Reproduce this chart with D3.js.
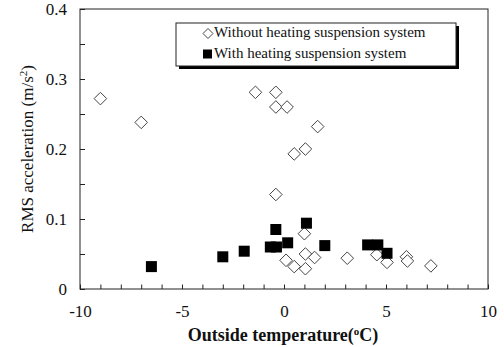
<!DOCTYPE html>
<html>
<head>
<meta charset="utf-8">
<script src="https://cdn.jsdelivr.net/npm/d3@7"></script>
<style>
  body { margin: 0; background: #fff; }
</style>
</head>
<body>
<div id="chart"></div>
<script>
// outside temperature (°C) vs RMS acceleration (m/s²)
const tempWithout = [-9, -7, -1.4, -0.4, -0.4, 0.15, 1.65, 0.5, 1.05, -0.4, 1.0, 1.05, 0.1, 0.5, 1.05, 1.5, 3.1, 4.55, 5.05, 6.0, 6.05, 7.2];
const rmsWithout = [0.272, 0.238, 0.281, 0.281, 0.260, 0.260, 0.232, 0.193, 0.200, 0.135, 0.079, 0.050, 0.041, 0.032, 0.029, 0.045, 0.044, 0.049, 0.038, 0.046, 0.040, 0.033];

const tempWith = [-6.5, -3, -1.95, -0.4, -0.67, -0.37, 0.18, 1.1, 2.0, 4.1, 4.6, 5.05];
const rmsWith = [0.032, 0.046, 0.054, 0.085, 0.060, 0.060, 0.066, 0.094, 0.062, 0.063, 0.063, 0.051];

const xTicks = d3.range(-10, 11, 1);
const xLabels = [-10, -5, 0, 5, 10];
const yTicks = [0, 0.05, 0.1, 0.15, 0.2, 0.25, 0.3, 0.35, 0.4];
const yLabels = [0, 0.1, 0.2, 0.3, 0.4];

const legendNames = ['Without heating suspension system', 'With heating suspension system'];

const FONT = '"Liberation Serif", "Times New Roman", serif';

const width = 504, height = 347;
const margin = { top: 9, right: 16, bottom: 58, left: 80 };
const w = width - margin.left - margin.right;
const h = height - margin.top - margin.bottom;

const svg = d3.select('#chart').append('svg')
  .attr('width', width)
  .attr('height', height);

const g = svg.append('g')
  .attr('transform', `translate(${margin.left},${margin.top})`);

const x = d3.scaleLinear().domain([-10, 10]).range([0, w]);
const y = d3.scaleLinear().domain([0, 0.4]).range([h, 0]);

// frame
g.append('rect')
  .attr('width', w).attr('height', h)
  .attr('fill', 'none').attr('stroke', '#222').attr('stroke-width', 1);

const xAxis = g.append('g')
  .attr('transform', `translate(0,${h})`)
  .call(d3.axisBottom(x).tickValues(xTicks).tickSize(-4.5).tickPadding(16)
    .tickFormat(d => xLabels.includes(d) ? String(d) : ''));
const yAxis = g.append('g')
  .call(d3.axisLeft(y).tickValues(yTicks).tickSize(-5).tickPadding(13)
    .tickFormat(d => yLabels.includes(d) ? String(d) : ''));

[xAxis, yAxis].forEach(a => {
  a.attr('font-family', null).attr('font-size', null);
  a.select('.domain').remove();
  a.selectAll('line').attr('stroke', '#222');
  a.selectAll('text').style('font-family', FONT).style('font-size', '17px').attr('fill', '#111');
});

// markers
const diamond = r => `M0,${-r}L${r},0L0,${r}L${-r},0Z`;

g.append('g').selectAll('path')
  .data(tempWithout.map((t, i) => [t, rmsWithout[i]]))
  .join('path')
  .attr('d', diamond(6.3))
  .attr('transform', d => `translate(${x(d[0])},${y(d[1])})`)
  .attr('fill', '#fff')
  .attr('stroke', '#444')
  .attr('stroke-width', 1);

g.append('g').selectAll('rect')
  .data(tempWith.map((t, i) => [t, rmsWith[i]]))
  .join('rect')
  .attr('x', d => x(d[0]) - 5.5)
  .attr('y', d => y(d[1]) - 5.5)
  .attr('width', 11).attr('height', 11)
  .attr('fill', '#000');

// legend
const leg = svg.append('g').attr('transform', 'translate(176,23)');
leg.append('rect').attr('x', 3).attr('y', 3).attr('width', 280).attr('height', 43).attr('fill', '#000');
leg.append('rect').attr('width', 280).attr('height', 43).attr('fill', '#fff').attr('stroke', '#222');
leg.append('path').attr('d', diamond(5)).attr('transform', 'translate(32,10.5)')
  .attr('fill', '#fff').attr('stroke', '#444');
leg.append('rect').attr('x', 27).attr('y', 26.5).attr('width', 9).attr('height', 9).attr('fill', '#000');
leg.selectAll('text.lbl')
  .data(legendNames)
  .join('text')
  .attr('class', 'lbl')
  .attr('x', 38)
  .attr('y', (d, i) => 13.5 + i * 21.5)
  .style('font-family', FONT)
  .style('font-size', '15px')
  .attr('fill', '#111')
  .text(d => d);

// axis titles
const xt = svg.append('text')
  .attr('x', margin.left + w / 2 - 1)
  .attr('y', 341)
  .attr('text-anchor', 'middle')
  .attr('fill', '#111')
  .style('font-family', FONT)
  .style('font-size', '18px')
  .style('font-weight', 'bold');
xt.append('tspan').text('Outside temperature(');
xt.append('tspan').attr('baseline-shift', 'super').style('font-size', '11px').text('o');
xt.append('tspan').text('C)');

const yt = svg.append('text')
  .attr('transform', 'translate(33,149) rotate(-90)')
  .attr('text-anchor', 'middle')
  .attr('fill', '#111')
  .style('font-family', FONT)
  .style('font-size', '17px');
yt.append('tspan').text('RMS acceleration (m/s');
yt.append('tspan').attr('baseline-shift', 'super').style('font-size', '11px').text('2');
yt.append('tspan').text(')');
</script>
</body>
</html>
